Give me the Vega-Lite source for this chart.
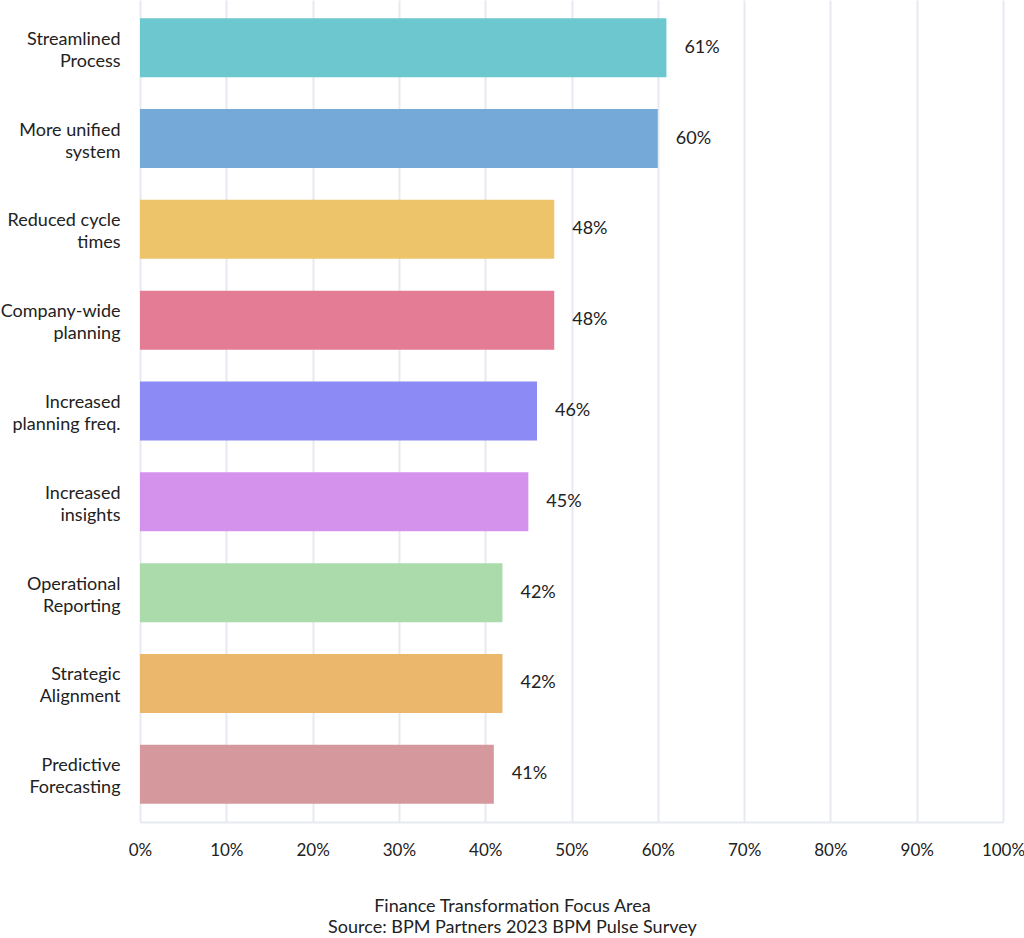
{
  "$schema": "https://vega.github.io/schema/vega-lite/v6.json",
  "width": 863,
  "height": 822,
  "autosize": {"type": "none"},
  "padding": {"left": 140, "top": 0, "right": 21, "bottom": 116},
  "background": "white",
  "config": {
    "font": "Lato",
    "view": {"stroke": null}
  },
  "title": {
    "text": ["Finance Transformation Focus Area", "Source: BPM Partners 2023 BPM Pulse Survey"],
    "orient": "bottom",
    "anchor": "middle",
    "frame": "bounds",
    "font": "Lato",
    "fontSize": 18,
    "fontWeight": "normal",
    "color": "#222222",
    "lineHeight": 21,
    "offset": 40
  },
  "data": {
    "values": [
      {"area": "Streamlined|Process", "pct": 61},
      {"area": "More unified|system", "pct": 60},
      {"area": "Reduced cycle|times", "pct": 48},
      {"area": "Company-wide|planning", "pct": 48},
      {"area": "Increased|planning freq.", "pct": 46},
      {"area": "Increased|insights", "pct": 45},
      {"area": "Operational|Reporting", "pct": 42},
      {"area": "Strategic|Alignment", "pct": 42},
      {"area": "Predictive|Forecasting", "pct": 41}
    ]
  },
  "encoding": {
    "y": {
      "field": "area",
      "type": "nominal",
      "sort": null,
      "scale": {"paddingInner": 0.35, "paddingOuter": 0.2},
      "axis": {
        "title": null,
        "domain": false,
        "ticks": false,
        "grid": false,
        "labelExpr": "split(datum.label, '|')",
        "labelFont": "Lato",
        "labelFontSize": 18,
        "labelColor": "#222222",
        "labelPadding": 20,
        "labelLineHeight": 22,
        "labelOffset": -8,
        "labelLimit": 200
      }
    },
    "x": {
      "field": "pct",
      "type": "quantitative",
      "scale": {"domain": [0, 100]},
      "axis": {
        "title": null,
        "values": [0, 10, 20, 30, 40, 50, 60, 70, 80, 90, 100],
        "labelExpr": "datum.value + '%'",
        "labelFont": "Lato",
        "labelFontSize": 17,
        "labelColor": "#222222",
        "labelPadding": 20,
        "ticks": false,
        "domain": true,
        "domainColor": "#e6eaf0",
        "domainWidth": 2,
        "grid": true,
        "gridColor": "#e6eaf0",
        "gridWidth": 2,
        "labelFlush": false
      }
    }
  },
  "layer": [
    {
      "mark": {"type": "bar"},
      "encoding": {
        "color": {
          "field": "area",
          "type": "nominal",
          "legend": null,
          "scale": {
            "domain": ["Streamlined|Process", "More unified|system", "Reduced cycle|times", "Company-wide|planning", "Increased|planning freq.", "Increased|insights", "Operational|Reporting", "Strategic|Alignment", "Predictive|Forecasting"],
            "range": ["#6dc7cf", "#74a9d8", "#edc46a", "#e47c96", "#8c8af4", "#d592ec", "#acdbab", "#ebb76c", "#d5999d"]
          }
        }
      }
    },
    {
      "mark": {"type": "text", "align": "left", "baseline": "middle", "dx": 18, "font": "Lato", "fontSize": 18, "color": "#222222", "text": {"expr": "datum.pct + '%'"}},
      "encoding": {}
    }
  ]
}
